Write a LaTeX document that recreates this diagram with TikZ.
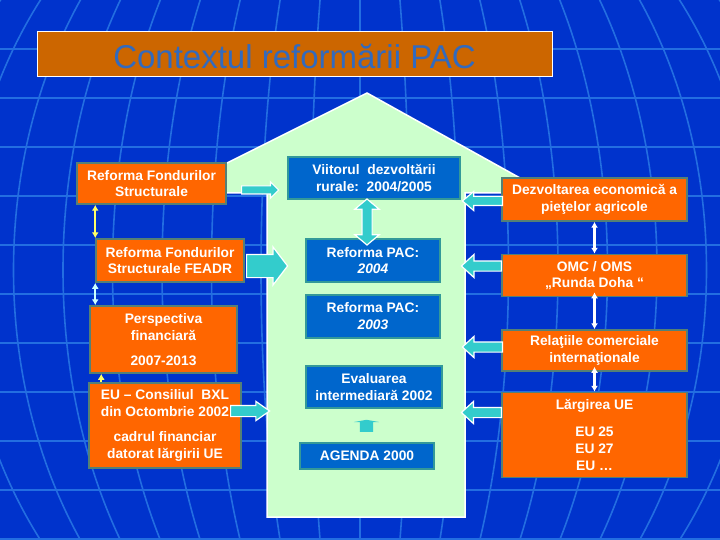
\documentclass[tikz,border=0pt]{standalone}
\usepackage{fontspec}
\setmainfont{Liberation Sans}
\usepackage{tikz}
\usetikzlibrary{arrows.meta,positioning,calc,shapes.arrows}
\definecolor{skybg}{RGB}{0,51,204}
\definecolor{gridln}{RGB}{35,110,225}
\definecolor{titlebg}{RGB}{204,102,0}
\definecolor{titlefg}{RGB}{50,106,190}
\definecolor{orbg}{RGB}{255,102,0}
\definecolor{orbd}{RGB}{84,128,118}
\definecolor{blbg}{RGB}{0,102,204}
\definecolor{blbd}{RGB}{51,153,153}
\definecolor{housebg}{RGB}{204,255,204}
\definecolor{arrbg}{RGB}{51,204,204}
\definecolor{paleyel}{RGB}{255,255,102}
\definecolor{palecyan}{RGB}{204,255,255}

\begin{document}
\begin{tikzpicture}[x=1pt,y=-1pt,>=Latex,
    font=\fontsize{13.8}{16.7}\selectfont\bfseries,
    ob/.style={draw=orbd,line width=1.5pt,fill=orbg,text=white,align=center,inner sep=0pt},
    bb/.style={draw=blbd,line width=1.8pt,fill=blbg,text=white,align=center,inner sep=0pt},
    blk/.style n args={3}{single arrow,draw=white,line width=1.2pt,fill=arrbg,inner sep=0pt,
      minimum width=0pt,text height=#1,text depth=0pt,single arrow head extend=#2,single arrow tip angle=#3},
    lnk/.style={line width=2.2pt,{Latex[length=6pt,width=7pt]}-{Latex[length=6pt,width=7pt]}}]
  % background
  \useasboundingbox (0,0) rectangle (720,540);
  \fill[skybg] (0,0) rectangle (720,540);
  \begin{scope}
    \clip (0,0) rectangle (720,540);
    \foreach \y in {49,98,...,539} \draw[gridln,line width=1.6pt] (0,\y) -- (720,\y);
    \foreach \k in {1,...,10} \draw[gridln,line width=1.6pt] (360,270) ellipse [x radius=49.5*\k, y radius=457];
    \draw[gridln,line width=1.6pt] (360,0) -- (360,540);
  \end{scope}
  % house
  \draw[white,line width=1.5pt,fill=housebg] (267,517) -- (267,193) -- (167,193) -- (367,93)
    -- (547,193) -- (465,193) -- (465,517) -- cycle;
  % title
  \node[draw=white,line width=1pt,fill=titlebg,minimum width=515,minimum height=45,inner sep=0pt,
    text=titlefg,font=\fontsize{33}{38}\selectfont\mdseries,text height=29pt,text depth=0pt]
    (title) at (294.5,54.5) {Contextul reformării PAC};
  % left column
  \node[ob,minimum width=149,minimum height=41] (rfs) at (151.5,183.5) {Reforma Fondurilor\\Structurale};
  \node[ob,minimum width=148,minimum height=43] (feadr) at (170,260.5) {Reforma Fondurilor\\Structurale FEADR};
  \node[ob,minimum width=147,minimum height=67] (persp) at (163.5,339.5) {Perspectiva\\financiară\\[8pt]2007-2013};
  \node[ob,minimum width=152,minimum height=85] (bxl) at (165,425.5) {EU – Consiliul\ \ BXL\\din Octombrie 2002\\[8pt]cadrul financiar\\datorat lărgirii UE};
  % house column
  \node[bb,minimum width=172,minimum height=42] (viit) at (374,178) {Viitorul\ \ dezvoltării\\rurale:\ \ 2004/2005};
  \node[bb,minimum width=134,minimum height=43] (pac4) at (373,260.5) {Reforma PAC:\\\textit{2004}};
  \node[bb,minimum width=134,minimum height=43,below=11pt of pac4] (pac3) {Reforma PAC:\\\textit{2003}};
  \node[bb,minimum width=136,minimum height=42] (eval) at (374,387) {Evaluarea\\intermediară 2002};
  \node[bb,minimum width=134,minimum height=26] (agenda) at (367,456) {AGENDA 2000};
  % right column
  \node[ob,minimum width=185,minimum height=43] (dezv) at (594.5,199.5) {Dezvoltarea economică a\\pieţelor agricole};
  \node[ob,minimum width=185,minimum height=42,below=32pt of dezv] (omc) {OMC / OMS\\„Runda Doha “};
  \node[ob,minimum width=185,minimum height=41,below=32pt of omc] (rel) {Relaţiile comerciale\\internaţionale};
  \node[ob,minimum width=185,minimum height=85,below=20pt of rel] (larg) {Lărgirea UE\\[10pt]EU 25\\EU 27\\EU …};
  % block arrows
  \node[blk={7pt}{4pt}{90},minimum height=37,anchor=tail] (arfs) at (241,190) {};
  \node[blk={22pt}{7.5pt}{105},minimum height=41,anchor=tail] (afeadr) at (246,266) {};
  \node[blk={10pt}{4pt}{70},minimum height=39,anchor=tail] (abxl) at (230,411) {};
  \node[blk={8pt}{5pt}{80},minimum height=40,shape border rotate=180,anchor=tail] (adezv) at (503,201) {};
  \node[blk={9pt}{6.5pt}{85},minimum height=40,shape border rotate=180,anchor=tail] (aomc) at (502,266) {};
  \node[blk={9pt}{5.5pt}{85},minimum height=40,shape border rotate=180,anchor=tail] (arel) at (503,347) {};
  \node[blk={9pt}{6pt}{85},minimum height=40,shape border rotate=180,anchor=tail] (alarg) at (502,412.5) {};
  \node[double arrow,draw=white,line width=1.2pt,fill=arrbg,inner sep=0pt,minimum width=0pt,
    text width=9pt,text height=0pt,text depth=0pt,double arrow head extend=7pt,double arrow tip angle=100,
    minimum height=46,shape border rotate=90] (aviit) at (367,222) {};
  \node[single arrow,fill=arrbg,inner sep=0pt,minimum width=0pt,text width=13pt,text height=0pt,text depth=0pt,
    single arrow head extend=6pt,single arrow tip angle=160,minimum height=12,
    shape border rotate=90,anchor=tail] (aagenda) at (366.5,432) {};
  % thin links
  \draw[lnk,paleyel] (rfs.south -| feadr.west) -- (feadr.north west);
  \draw[lnk,palecyan] (feadr.south west) -- (feadr.south west |- persp.north);
  \draw[line width=2.2pt,paleyel,-{Latex[length=6pt,width=7pt]}] ([xshift=13pt]bxl.north west) -- ([xshift=13pt]bxl.north west |- persp.south);
  \draw[lnk,white] (dezv.south) -- (omc.north);
  \foreach \a/\b in {omc/rel,rel/larg} \draw[lnk,white,shorten <=-5pt] (\a.south) -- (\b.north);
\end{tikzpicture}
\end{document}
